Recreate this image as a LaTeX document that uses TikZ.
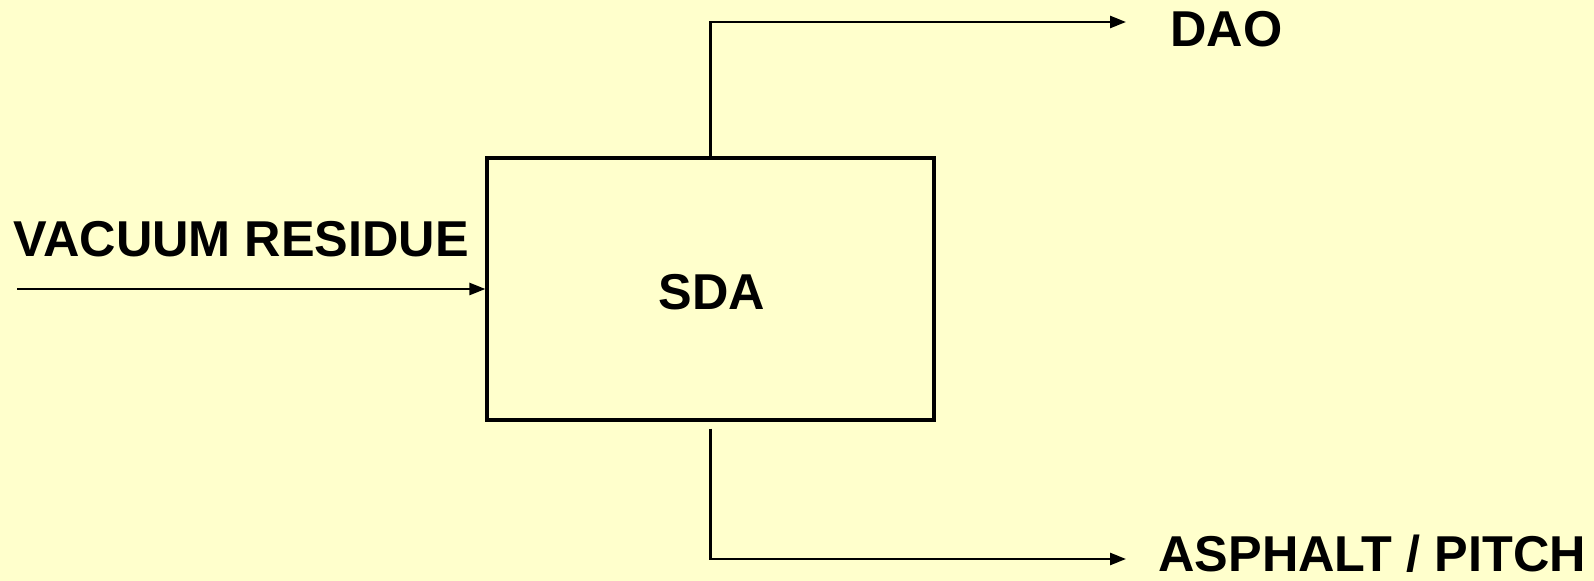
\documentclass[tikz,border=0pt]{standalone}
\usepackage{fontspec}
\setmainfont{Liberation Sans}
\usetikzlibrary{arrows.meta}
\definecolor{bgyellow}{RGB}{255,255,204}
\tikzset{
  lbl/.style={font=\fontsize{25.2pt}{30pt}\selectfont\bfseries, inner sep=0pt, text=black},
  unitbox/.style={draw=black, line width=1.6pt, fill=bgyellow, minimum width=223.5pt, minimum height=131pt, inner sep=0pt},
  flow/.style={draw=black, line width=1.3pt, -{Triangle[length=8pt,width=6pt]}},
}
\begin{document}
\begin{tikzpicture}[x=0.5pt,y=-0.5pt]
\useasboundingbox (0,0) rectangle (1594,581);
\fill[bgyellow] (0,0) rectangle (1594,581);

\node[unitbox] (sda) at (710.5,289) {};
\node[lbl, anchor=base] (sdatext) at (712,310) {SDA};

\node[lbl, anchor=base west] (vr) at (13,257) {VACUUM\ RESIDUE};
\node[lbl, anchor=base west] (dao) at (1170,47) {DAO};
\node[lbl, anchor=base west] (asp) at (1158,572) {ASPHALT / PITCH};

\coordinate (infeed) at (17,289);
\coordinate (daoend) at (1126,22);
\coordinate (aspend) at (1126,559);
\coordinate (botstart) at ([yshift=-3.5pt]sda.south);

\draw[flow] (infeed) -- (infeed -| sda.west);
\draw[flow] (sda.north) |- (daoend);
\draw[flow] (botstart) |- (aspend);
\end{tikzpicture}
\end{document}
